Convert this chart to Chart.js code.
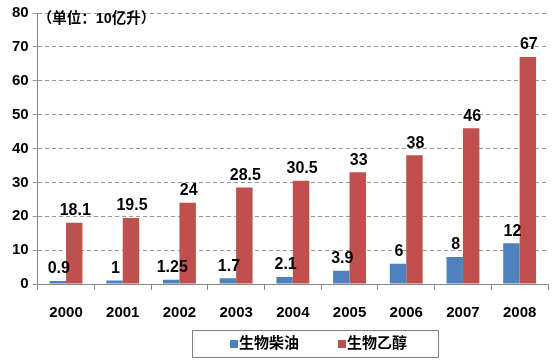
<!DOCTYPE html>
<html>
<head>
<meta charset="utf-8">
<script src="https://cdn.jsdelivr.net/npm/chart.js@4/dist/chart.umd.min.js"></script>
<style>
  html, body { margin: 0; padding: 0; background: #fff; }
  #wrap { width: 553px; height: 361px; }
</style>
</head>
<body>
<div id="wrap"><canvas id="chart"></canvas></div>
<script>
const years = ["2000", "2001", "2002", "2003", "2004", "2005", "2006", "2007", "2008"];
const biodiesel = [0.9, 1, 1.25, 1.7, 2.1, 3.9, 6, 8, 12];
const bioethanol = [18.1, 19.5, 24, 28.5, 30.5, 33, 38, 46, 67];
const dieselLabels = ["0.9", "1", "1.25", "1.7", "2.1", "3.9", "6", "8", "12"];
const ethanolLabels = ["18.1", "19.5", "24", "28.5", "30.5", "33", "38", "46", "67"];
const seriesNames = ["生物柴油", "生物乙醇"];
const unitNote = "（单位：10亿升）";

const FONT = '"Liberation Sans", Arial, "Noto Sans CJK SC", sans-serif';
const labelTexts = [dieselLabels, ethanolLabels];

// value labels above each bar, note text, and boxed legend
const extras = {
  id: "extras",
  afterDatasetsDraw(chart) {
    const ctx = chart.ctx;
    ctx.save();
    ctx.fillStyle = "#000";
    ctx.font = "bold 16px " + FONT;
    ctx.textAlign = "center";
    ctx.textBaseline = "bottom";
    chart.data.datasets.forEach((ds, i) => {
      chart.getDatasetMeta(i).data.forEach((bar, j) => {
        ctx.fillText(labelTexts[i][j], bar.x + 1, bar.y - 4);
      });
    });

    const area = chart.chartArea;
    ctx.font = "bold 14.5px " + FONT;
    ctx.textAlign = "left";
    ctx.textBaseline = "middle";
    ctx.fillText(unitNote, area.left, area.top + 6);

    // legend
    const lx = 192, ly = 330, lw = 246, lh = 27;
    ctx.strokeStyle = "#000";
    ctx.lineWidth = 1;
    ctx.setLineDash([1, 1]);
    ctx.strokeRect(lx + 0.5, ly + 0.5, lw, lh);
    ctx.setLineDash([]);
    ctx.font = "bold 15px " + FONT;
    let x = lx + 38;
    chart.data.datasets.forEach((ds) => {
      ctx.fillStyle = ds.backgroundColor;
      ctx.fillRect(x, ly + 10, 8, 8);
      ctx.fillStyle = "#000";
      ctx.fillText(ds.label, x + 9, ly + 14);
      x += 108;
    });
    ctx.restore();
  }
};

new Chart(document.getElementById("chart"), {
  type: "bar",
  data: {
    labels: years,
    datasets: [
      { label: seriesNames[0], data: biodiesel, backgroundColor: "#4F81BD" },
      { label: seriesNames[1], data: bioethanol, backgroundColor: "#C0504D" }
    ]
  },
  options: {
    responsive: true,
    maintainAspectRatio: false,
    animation: false,
    layout: { padding: { top: 6, right: 5, bottom: 25, left: 8 } },
    plugins: {
      legend: { display: false },
      tooltip: { enabled: false }
    },
    datasets: {
      bar: { categoryPercentage: 0.58, barPercentage: 1 }
    },
    scales: {
      x: {
        grid: { drawOnChartArea: false, drawTicks: true, tickLength: 6, color: "#888" },
        border: { color: "#888", width: 1 },
        ticks: { color: "#000", padding: 14, font: { family: FONT, size: 15, weight: "bold" } }
      },
      y: {
        min: 0,
        max: 80,
        ticks: { stepSize: 10, color: "#000", padding: 4, font: { family: FONT, size: 15, weight: "bold" } },
        grid: { color: "#999", tickLength: 5 },
        border: { color: "#888", width: 1, dash: [4, 3] }
      }
    }
  },
  plugins: [extras]
});
</script>
</body>
</html>
